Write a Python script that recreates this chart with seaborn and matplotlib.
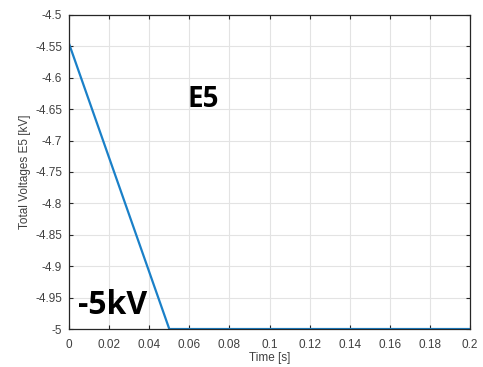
import matplotlib.pyplot as plt
import seaborn as sns
import pandas as pd

# data
time_s = [0.0, 0.05, 0.2]
voltage_kv = [-4.546, -5.0, -5.0]
x_ticks = [0, 0.02, 0.04, 0.06, 0.08, 0.1, 0.12, 0.14, 0.16, 0.18, 0.2]
y_ticks = [-5, -4.95, -4.9, -4.85, -4.8, -4.75, -4.7, -4.65, -4.6, -4.55, -4.5]

sns.set_style("whitegrid")
plt.rcParams['font.family'] = ['Liberation Sans', 'DejaVu Sans']

df = pd.DataFrame({'time': time_s, 'voltage': voltage_kv})

fig = plt.figure(figsize=(4.83, 3.67), dpi=100)
ax = fig.add_axes([0.143, 0.1035, 0.830, 0.856])
sns.lineplot(data=df, x='time', y='voltage', color='#1a80c8', linewidth=1.6, ax=ax)

ax.set_xlim(0, 0.2)
ax.set_ylim(-5, -4.5)
ax.set_xticks(x_ticks)
ax.set_xticklabels([f'{t:g}' for t in x_ticks])
ax.set_yticks(y_ticks)
ax.set_yticklabels([f'{t:g}' for t in y_ticks])
ax.grid(True, color='#e3e3e3', linewidth=0.8)
for s in ax.spines.values():
    s.set_visible(True)
    s.set_color('#262626')
    s.set_linewidth(0.9)
ax.tick_params(direction='in', length=3, width=0.8, color='#262626',
               labelsize=8.5, labelcolor='#404040', top=True, right=True,
               bottom=True, left=True)
ax.tick_params(axis='x', pad=7)
ax.tick_params(axis='y', pad=5)
ax.set_xlabel('Time [s]', fontsize=8.5, color='#404040', labelpad=1)
ax.set_ylabel('Total Voltages E5 [kV]', fontsize=8.5, color='#404040', labelpad=3)

ax.text(0.0589, -4.635, 'E5', fontsize=20, fontweight='bold', family='Open Sans',
        va='center', ha='left', color='black')
ax.text(0.0045, -4.963, '-5kV', fontsize=23, fontweight='bold', family='Open Sans',
        va='center', ha='left', color='black')

fig.savefig('out.png', dpi=100)
plt.close(fig)
